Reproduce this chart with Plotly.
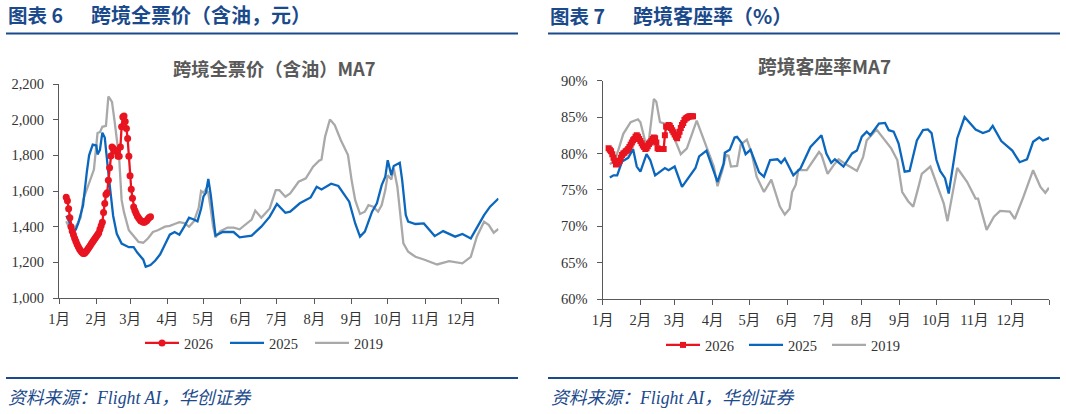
import plotly.graph_objects as go

W = 1066
H = 414

month_days = [0, 31, 59, 90, 120, 151, 181, 212, 243, 273, 304, 334, 365]
month_labels = ['1月', '2月', '3月', '4月', '5月', '6月', '7月', '8月', '9月', '10月', '11月', '12月', '']

# 跨境全票价 (день року, значення)
fare_2026_days = list(range(6, 77))
fare_2026 = [1565, 1545, 1500, 1450, 1400, 1375, 1355, 1335, 1318, 1302, 1288, 1275, 1265, 1257, 1250,
             1250, 1256, 1265, 1275, 1285, 1295, 1305, 1315, 1325, 1335, 1345, 1355, 1365, 1385, 1405,
             1425, 1480, 1530, 1580, 1590, 1660, 1730, 1796, 1847, 1840, 1830, 1825, 1820, 1795, 1795,
             1847, 1960, 2015, 2020, 1990, 1950, 1895, 1795, 1685, 1610, 1560, 1510, 1490, 1475, 1460,
             1450, 1440, 1432, 1430, 1425, 1425, 1430, 1435, 1445, 1452, 1455]

fare_2025_days = [6, 8, 10, 12, 14, 16, 18, 20, 23, 25, 28, 31, 32, 34, 36, 38, 41, 43, 45, 48, 52, 58, 62, 65,
                  70, 72, 76, 80, 84, 88, 92, 96, 100, 104, 108, 112, 115, 118, 120, 122, 124, 126, 130, 136,
                  145, 150, 160, 168, 175, 181, 188, 192, 200, 209, 214, 218, 226, 232, 241, 246, 250, 254,
                  260, 264, 268, 271, 273, 276, 278, 283, 285, 288, 290, 296, 303, 312, 319, 329, 335, 342,
                  347, 353, 358, 365]
fare_2025 = [1460, 1440, 1385, 1370, 1385, 1420, 1470, 1520, 1700, 1800, 1860, 1855, 1805, 1830, 1927, 1900,
             1700, 1560, 1460, 1360, 1305, 1285, 1285, 1255, 1215, 1175, 1185, 1210, 1245, 1300, 1355, 1370,
             1355, 1400, 1450, 1440, 1430, 1500, 1570, 1590, 1667, 1580, 1350, 1370, 1370, 1340, 1350, 1400,
             1456, 1527, 1478, 1484, 1531, 1564, 1624, 1609, 1641, 1628, 1540, 1418, 1344, 1372, 1484, 1531,
             1633, 1680, 1773, 1689, 1740, 1758, 1661, 1465, 1428, 1415, 1418, 1347, 1375, 1344, 1359, 1334,
             1390, 1465, 1512, 1558]

fare_2019_days = [6, 10, 14, 18, 20, 27, 29, 32, 34, 36, 39, 41, 44, 46, 50, 52, 54, 58, 62, 66, 70, 74, 78, 82,
                  88, 92, 96, 100, 104, 108, 112, 116, 118, 120, 122, 124, 126, 128, 130, 134, 140, 145, 150,
                  155, 160, 163, 168, 172, 175, 180, 183, 188, 192, 199, 205, 211, 216, 218, 221, 225, 229,
                  234, 240, 243, 246, 250, 254, 257, 261, 265, 268, 271, 273, 276, 278, 281, 284, 286, 290,
                  296, 303, 314, 324, 335, 342, 347, 353, 357, 361, 365]
fare_2019 = [1430, 1370, 1400, 1450, 1550, 1680, 1720, 1925, 1930, 1960, 1965, 2130, 2100, 2000, 1780, 1550,
             1480, 1380, 1345, 1315, 1310, 1335, 1370, 1380, 1400, 1405, 1415, 1425, 1420, 1400, 1430, 1505,
             1600, 1590, 1610, 1590, 1500, 1400, 1340, 1375, 1395, 1395, 1385, 1410, 1440, 1490, 1450, 1480,
             1502, 1605, 1605, 1568, 1587, 1652, 1671, 1736, 1770, 1777, 1905, 2001, 1970, 1886, 1802, 1661,
             1549, 1471, 1484, 1521, 1512, 1484, 1521, 1605, 1689, 1665, 1727, 1624, 1418, 1306, 1259, 1231,
             1216, 1188, 1207, 1194, 1231, 1344, 1428, 1409, 1366, 1387]

# 跨境客座率
load_2026_days = list(range(5, 75))
load_2026 = [80.7, 80.5, 80.3, 79.9, 79.4, 79.0, 78.5, 78.6, 78.8, 79.0, 79.4, 79.8, 80.0, 80.1, 80.3, 80.4,
             80.6, 80.9, 81.2, 81.5, 81.8, 82.0, 82.3, 82.5, 82.3, 82.0, 81.7, 81.4, 81.1, 80.9, 80.6, 80.7,
             81.0, 81.3, 81.5, 81.7, 82.0, 82.2, 82.1, 81.5, 80.7, 80.6, 80.6, 80.6, 80.6, 80.6, 82.5, 83.7,
             83.6, 83.9, 83.8, 83.5, 83.2, 82.9, 82.6, 82.3, 82.1, 82.5, 83.0, 83.5, 83.9, 84.2, 84.6, 84.8,
             84.9, 85.0, 85.1, 85.1, 85.1, 85.1]

load_2025_days = [6, 9, 12, 16, 21, 25, 28, 31, 36, 39, 43, 51, 54, 59, 65, 70, 76, 79, 85, 94, 99, 100, 104, 108,
                  110, 114, 117, 121, 123, 128, 132, 137, 143, 146, 149, 152, 156, 162, 170, 179, 183, 187, 190,
                  197, 204, 208, 212, 216, 219, 226, 231, 234, 238, 242, 247, 251, 257, 262, 266, 269, 273, 276,
                  280, 283, 290, 296, 305, 311, 316, 319, 326, 335, 341, 347, 352, 357, 360, 365]
load_2025 = [76.7, 77, 77, 78.9, 79.4, 80.6, 78.2, 77.5, 79.9, 79.1, 77, 78, 77.7, 78.2, 75.4, 76.6, 78, 79.6,
             80.4, 76.1, 78.6, 80.1, 80.5, 82.2, 82.3, 81.4, 79.9, 80.5, 79.6, 77.4, 76.8, 79.1, 79.2, 78.7,
             79.3, 78.3, 77, 78, 80.9, 82.5, 80, 78.7, 79.2, 78.2, 80, 80.4, 82.3, 83, 82.5, 84.1, 84.2, 83.2,
             83, 81.4, 77.5, 77.6, 81.8, 83.2, 83.3, 82.8, 79.1, 77.6, 76.6, 74.5, 82.1, 85, 83.3, 82.8, 83.1,
             83.8, 81.7, 80.4, 78.8, 79.2, 81.6, 82.2, 81.8, 82.1]

load_2019_days = [6, 10, 13, 17, 23, 29, 31, 35, 38, 42, 44, 47, 51, 57, 64, 69, 77, 85, 91, 94, 98, 101, 103, 105,
                  110, 113, 118, 122, 126, 132, 138, 145, 149, 153, 155, 158, 160, 167, 172, 177, 179, 184, 189,
                  193, 200, 208, 213, 216, 224, 230, 236, 241, 245, 250, 254, 258, 261, 268, 273, 279, 282, 286,
                  290, 298, 305, 307, 314, 320, 325, 333, 337, 344, 352, 358, 362, 365]
load_2019 = [78.5, 79.1, 80.5, 82.7, 84.3, 84.7, 84.3, 81.6, 81.9, 87.5, 87.1, 84.3, 84.1, 82.8, 79.9, 80.7,
             84.5, 80.9, 78.2, 75.5, 77.7, 79.8, 79.7, 78.2, 78.3, 81.2, 81.9, 80, 76.8, 74.7, 76.4, 72.7, 71.6,
             72.4, 74.7, 75.7, 77.7, 77.7, 78.9, 80.2, 79.8, 77.2, 78.4, 79.2, 78.4, 77.6, 79.5, 81.8, 83.3, 82,
             80.7, 79.1, 74.7, 73.4, 72.7, 75.2, 77.2, 78.2, 75.9, 73.1, 70.7, 74.5, 78, 76.1, 73.8, 73.8, 69.5,
             71.3, 72.1, 72, 71, 74, 77.7, 75.4, 74.6, 75.3]

RED = '#e8141f'
BLUE = '#0a67bd'
GRAY = '#a9a9a9'
NAVY = '#1b4a8c'
SERIF = 'Liberation Serif, Noto Sans CJK SC'
CJK = 'Noto Sans CJK SC'

LEFT_BOX = (59, 498.5, 84, 298)
RIGHT_BOX = (602.5, 1049, 80.7, 299)


def fx(px):
    return px / W


def fy(py):
    return 1 - py / H


fig = go.Figure()

# сірий і синій знизу, червоний зверху
fig.add_trace(go.Scatter(x=fare_2019_days, y=fare_2019, name='2019', mode='lines',
                         line=dict(color=GRAY, width=2.3), xaxis='x', yaxis='y', legend='legend'))
fig.add_trace(go.Scatter(x=fare_2025_days, y=fare_2025, name='2025', mode='lines',
                         line=dict(color=BLUE, width=2.3), xaxis='x', yaxis='y', legend='legend'))
fig.add_trace(go.Scatter(x=fare_2026_days, y=fare_2026, name='2026', mode='lines+markers',
                         line=dict(color=RED, width=2.3), marker=dict(symbol='circle', size=7, color=RED),
                         xaxis='x', yaxis='y', legend='legend'))

fig.add_trace(go.Scatter(x=load_2019_days, y=load_2019, name='2019', mode='lines',
                         line=dict(color=GRAY, width=2.3), xaxis='x2', yaxis='y2', legend='legend2'))
fig.add_trace(go.Scatter(x=load_2025_days, y=load_2025, name='2025', mode='lines',
                         line=dict(color=BLUE, width=2.3), xaxis='x2', yaxis='y2', legend='legend2'))
fig.add_trace(go.Scatter(x=load_2026_days, y=load_2026, name='2026', mode='lines+markers',
                         line=dict(color=RED, width=2.3), marker=dict(symbol='square', size=6, color=RED),
                         xaxis='x2', yaxis='y2', legend='legend2'))

axis_style = dict(showgrid=False, zeroline=False, showline=True, linecolor='#595959', linewidth=1,
                  automargin=False, ticks='outside', ticklen=5, tickcolor='#595959',
                  tickfont=dict(family=SERIF, size=14.5, color='#333333'))

fig.update_layout(
    template='none',
    width=W, height=H, autosize=False,
    margin=dict(l=0, r=0, t=0, b=0, pad=0),
    paper_bgcolor='white', plot_bgcolor='white',
    xaxis=dict(domain=[fx(LEFT_BOX[0]), fx(LEFT_BOX[1])], range=[0, 365], tickmode='array', tickvals=month_days,
               ticktext=month_labels, tickangle=0, anchor='y', ticklabelstandoff=3, **axis_style),
    yaxis=dict(domain=[fy(LEFT_BOX[3]), fy(LEFT_BOX[2])], range=[1000, 2200], tickmode='array',
               tickvals=list(range(1000, 2201, 200)),
               ticktext=[f'{v:,}' for v in range(1000, 2201, 200)], anchor='x', ticklabelstandoff=6, **axis_style),
    xaxis2=dict(domain=[fx(RIGHT_BOX[0]), fx(RIGHT_BOX[1])], range=[0, 365], tickmode='array', tickvals=month_days,
                ticktext=month_labels, tickangle=0, anchor='y2', ticklabelstandoff=3, **axis_style),
    yaxis2=dict(domain=[fy(RIGHT_BOX[3]), fy(RIGHT_BOX[2])], range=[60, 90], tickmode='array',
                tickvals=list(range(60, 91, 5)), ticktext=[f'{v}%' for v in range(60, 91, 5)],
                anchor='x2', ticklabelstandoff=6, **axis_style),
    legend=dict(orientation='h', x=fx(140), y=fy(327), xanchor='left', yanchor='top',
                traceorder='reversed', entrywidth=36, entrywidthmode='pixels', itemwidth=34,
                bgcolor='rgba(0,0,0,0)', font=dict(family=SERIF, size=14.5, color='#333333')),
    legend2=dict(orientation='h', x=fx(661), y=fy(329), xanchor='left', yanchor='top',
                 traceorder='reversed', entrywidth=34, entrywidthmode='pixels', itemwidth=34,
                 bgcolor='rgba(0,0,0,0)', font=dict(family=SERIF, size=14.5, color='#333333')),
)


# підписи прив'язані до осей, щоб paper-анотації не розсували поля
def add_text(px, py, txt, size, color, family, box, suffix, **font_kw):
    x0, x1, y0, y1 = box
    anchor = font_kw.pop('xanchor', 'left')
    fig.add_annotation(xref=f'x{suffix} domain', yref=f'y{suffix} domain',
                       x=(px - x0) / (x1 - x0), y=(y1 - py) / (y1 - y0),
                       xanchor=anchor, yanchor='middle', text=txt, showarrow=False,
                       font=dict(family=family, size=size, color=color, **font_kw))


add_text(6, 15, '<b>图表 6</b>', 19.5, NAVY, CJK, LEFT_BOX, '')
add_text(89, 15, '<b>跨境全票价（含油，元）</b>', 20, NAVY, CJK, LEFT_BOX, '')
add_text(548, 15, '<b>图表 7</b>', 19.5, NAVY, CJK, RIGHT_BOX, '2')
add_text(631, 15, '<b>跨境客座率（%）</b>', 20, NAVY, CJK, RIGHT_BOX, '2')
add_text(6, 398.5, '资料来源：Flight AI，华创证券', 17.8, NAVY, SERIF, LEFT_BOX, '', style='italic')
add_text(549, 398.5, '资料来源：Flight AI，华创证券', 17.8, NAVY, SERIF, RIGHT_BOX, '2', style='italic')
add_text(274, 68, '<b>跨境全票价（含油）MA7</b>', 18.3, '#595959', CJK, LEFT_BOX, '', xanchor='center')
add_text(824, 65, '<b>跨境客座率MA7</b>', 18.8, '#595959', CJK, RIGHT_BOX, '2', xanchor='center')

for x0, x1 in [(6, 518), (548, 1060)]:
    for py in [33.5, 378]:
        fig.add_shape(type='line', xref='paper', yref='paper', x0=fx(x0), x1=fx(x1), y0=fy(py), y1=fy(py),
                      line=dict(color=NAVY, width=2))

fig.write_html("out.html", config=dict(displayModeBar=False), post_script="document.body.style.margin='0';")
